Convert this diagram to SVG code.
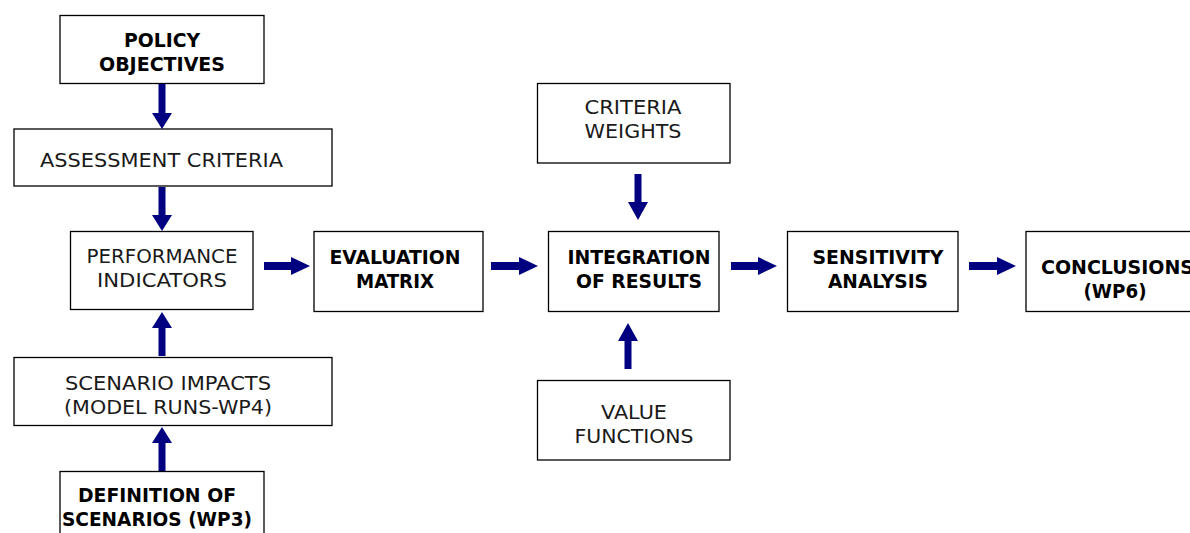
<svg xmlns="http://www.w3.org/2000/svg" width="1190" height="533" viewBox="0 0 1190 533">
<style>
.box{fill:#fff;stroke:#000;stroke-width:1.3}
.t{font-family:"DejaVu Sans",Verdana,sans-serif;font-size:20px;fill:#1a1a1a}
.b{font-family:"DejaVu Sans Condensed","DejaVu Sans",sans-serif;font-size:20px;font-weight:bold;fill:#000}
.ar{fill:#000080}
</style>
<rect width="1190" height="533" fill="#fff"/>
<g id="policy"><rect class="box" x="60" y="15.5" width="204" height="68"/>
<text class="b" text-anchor="middle" x="162" y="47" textLength="76" lengthAdjust="spacingAndGlyphs">POLICY</text>
<text class="b" text-anchor="middle" x="162" y="71" textLength="126" lengthAdjust="spacingAndGlyphs">OBJECTIVES</text></g>
<g id="assessment"><rect class="box" x="14" y="129" width="318" height="57"/>
<text class="t" x="40" y="167" textLength="243" lengthAdjust="spacingAndGlyphs">ASSESSMENT CRITERIA</text></g>
<g id="performance"><rect class="box" x="70.5" y="231.5" width="182.5" height="78"/>
<text class="t" text-anchor="middle" x="162" y="263" textLength="151" lengthAdjust="spacingAndGlyphs">PERFORMANCE</text>
<text class="t" text-anchor="middle" x="162" y="287" textLength="130" lengthAdjust="spacingAndGlyphs">INDICATORS</text></g>
<g id="scenario"><rect class="box" x="14" y="357.5" width="318" height="68"/>
<text class="t" text-anchor="middle" x="168" y="390" textLength="206" lengthAdjust="spacingAndGlyphs">SCENARIO IMPACTS</text>
<text class="t" text-anchor="middle" x="168" y="414" textLength="208" lengthAdjust="spacingAndGlyphs">(MODEL RUNS-WP4)</text></g>
<g id="definition"><rect class="box" x="60" y="471.5" width="204" height="70"/>
<text class="b" text-anchor="middle" x="157" y="502" textLength="158" lengthAdjust="spacingAndGlyphs">DEFINITION OF</text>
<text class="b" text-anchor="middle" x="157" y="526" textLength="190" lengthAdjust="spacingAndGlyphs">SCENARIOS (WP3)</text></g>
<g id="evaluation"><rect class="box" x="314" y="231.5" width="169" height="80"/>
<text class="b" text-anchor="middle" x="395" y="264" textLength="131" lengthAdjust="spacingAndGlyphs">EVALUATION</text>
<text class="b" text-anchor="middle" x="395" y="288" textLength="78" lengthAdjust="spacingAndGlyphs">MATRIX</text></g>
<g id="weights"><rect class="box" x="537.5" y="83.5" width="192.5" height="79.5"/>
<text class="t" text-anchor="middle" x="633" y="114" textLength="97" lengthAdjust="spacingAndGlyphs">CRITERIA</text>
<text class="t" text-anchor="middle" x="633" y="138" textLength="97" lengthAdjust="spacingAndGlyphs">WEIGHTS</text></g>
<g id="integration"><rect class="box" x="548.5" y="231.5" width="170.5" height="80"/>
<text class="b" text-anchor="middle" x="639" y="264" textLength="143" lengthAdjust="spacingAndGlyphs">INTEGRATION</text>
<text class="b" text-anchor="middle" x="639" y="288" textLength="126" lengthAdjust="spacingAndGlyphs">OF RESULTS</text></g>
<g id="value"><rect class="box" x="537.5" y="380.5" width="192.5" height="79.5"/>
<text class="t" text-anchor="middle" x="634" y="419" textLength="66" lengthAdjust="spacingAndGlyphs">VALUE</text>
<text class="t" text-anchor="middle" x="634" y="443" textLength="119" lengthAdjust="spacingAndGlyphs">FUNCTIONS</text></g>
<g id="sensitivity"><rect class="box" x="787.5" y="231.5" width="170.5" height="80"/>
<text class="b" text-anchor="middle" x="878" y="264" textLength="131" lengthAdjust="spacingAndGlyphs">SENSITIVITY</text>
<text class="b" text-anchor="middle" x="878" y="288" textLength="100" lengthAdjust="spacingAndGlyphs">ANALYSIS</text></g>
<g id="conclusions"><rect class="box" x="1026" y="231.5" width="170" height="80"/>
<text class="b" x="1041" y="274" textLength="153" lengthAdjust="spacingAndGlyphs">CONCLUSIONS</text>
<text class="b" text-anchor="middle" x="1115" y="298" textLength="63" lengthAdjust="spacingAndGlyphs">(WP6)</text></g>
<g id="connectors">
<polygon class="ar" points="158.5,84 165.5,84 165.5,113 172,113 162,129 152,113 158.5,113"/>
<polygon class="ar" points="158.5,187 165.5,187 165.5,215 172,215 162,231 152,215 158.5,215"/>
<polygon class="ar" points="158.5,356 165.5,356 165.5,328 172,328 162,312 152,328 158.5,328"/>
<polygon class="ar" points="158.5,471 165.5,471 165.5,443 172,443 162,427 152,443 158.5,443"/>
<polygon class="ar" points="264,262 291,262 291,257 310,266 291,275 291,270 264,270"/>
<polygon class="ar" points="491,262 519,262 519,257 538,266 519,275 519,270 491,270"/>
<polygon class="ar" points="731,262 758,262 758,257 777,266 758,275 758,270 731,270"/>
<polygon class="ar" points="969,262 997,262 997,257 1016,266 997,275 997,270 969,270"/>
<polygon class="ar" points="634.5,174 641.5,174 641.5,202 648,202 638,220 628,202 634.5,202"/>
<polygon class="ar" points="624.5,369 631.5,369 631.5,341 638,341 628,323 618,341 624.5,341"/>
</g>
</svg>
